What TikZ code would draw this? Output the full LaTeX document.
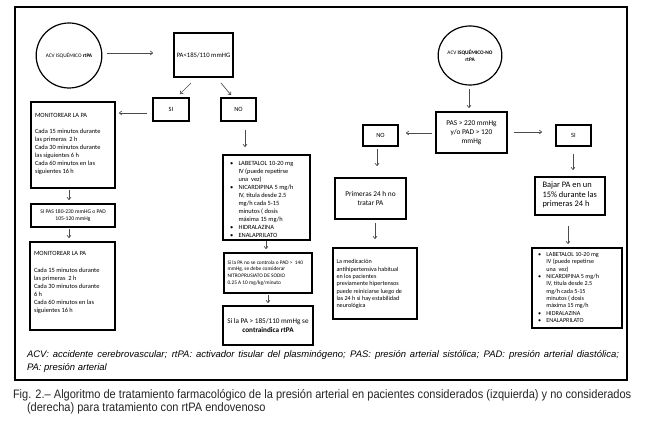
\documentclass[tikz,border=0pt]{standalone}
\usepackage{fontspec}
\setmainfont{Carlito}
\newfontfamily\capfont{Liberation Sans}
\newfontfamily\narrowfont[FakeStretch=0.9]{Liberation Sans}
\usetikzlibrary{arrows.meta,shapes.geometric}
\begin{document}
\begin{tikzpicture}[x=0.75pt,y=-0.75pt,
  box/.style 2 args={draw=black,line width=0.9pt,minimum width={#1*0.75pt},minimum height={#2*0.75pt},inner sep=0pt,outer sep=0pt,align=center},
  oval/.style 2 args={ellipse,draw=black,line width=0.9pt,minimum width={#1*0.75pt},minimum height={#2*0.75pt},inner sep=0pt,outer sep=0pt,align=center},
  txt/.style={inner sep=0pt,outer sep=0pt,anchor=north west,align=left,text=black},
  arr/.style={draw=black!70,line width=0.5pt,-{To[length=2.2pt,width=3.2pt]}},
  fa/.style={font=\fontsize{4}{5}\selectfont},
  fb/.style={font=\fontsize{4.8}{6}\selectfont},
  fc/.style={font=\fontsize{5.5}{6.6}\selectfont},
  fd/.style={font=\fontsize{6.3}{7.2}\selectfont}]
\useasboundingbox (0,0) rectangle (653,441);
\fill[white] (0,0) rectangle (653,441);
% outer frame
\draw[line width=0.8pt] (15,7) rectangle (627,380);

% ---------- left branch ----------
\node[oval={58}{65},fa] (circL) at (69,55.5) {ACV ISQUÉMICO \textbf{rtPA}};
\node[box={59}{44},font=\fontsize{5}{6}\selectfont] (paL) at (203.5,55) {PA<185/110 mmHG};
\node[box={36}{23},fb] (siL) at (171,109.5) {SI};
\node[box={35}{23},fb] (noL) at (238.5,109.5) {NO};
\node[box={84}{86}] (monA) at (73,145) {};
\node[txt,fb] (monAt) at (35,113.5) {MONITOREAR LA PA\\[6pt]Cada 15 minutos durante\\las primeras\ \ 2 h\\Cada 30 minutos durante\\las siguientes 6 h\\Cada 60 minutos en las\\siguientes 16 h};
\node[box={84}{23},font=\fontsize{4.2}{5.4}\selectfont] (siPAS) at (73,215.5) {SI PAS 180-230 mmHG o PAD\\105-120 mmHg};
\node[box={85}{88}] (monB) at (72.5,286) {};
\node[txt,fb] (monBt) at (34,251.5) {MONITOREAR LA PA\\[6.8pt]Cada 15 minutos durante\\las primeras\ \ 2 h\\Cada 30 minutos durante\\6 h\\Cada 60 minutos en las\\siguientes 16 h};
\node[box={87}{85}] (drugL) at (266.5,197.5) {};
\node[txt,fb] (drugLt) at (230,159.5) {\renewcommand\arraystretch{1}\begin{tabular}{@{}l@{\hspace{4pt}}l@{}}
\textbullet & LABETALOL 10-20 mg\\ & IV (puede repetirse\\ & una\ \ vez)\\
\textbullet & NICARDIPINA 5 mg/h\\ & IV, titula desde 2.5\\ & mg/h cada 5-15\\ & minutos ( dosis\\ & máxima 15 mg/h\\
\textbullet & HIDRALAZINA\\ \textbullet & ENALAPRILATO\end{tabular}};
\node[box={88}{40}] (nitro) at (268,273) {};
\node[txt,font=\fontsize{4}{5}\selectfont] (nitrot) at (227.5,260.5) {Si la PA no se controla o PAD >\ \ 140\\mmHg, se debe considerar\\NITROPRUSIATO DE SODIO\\0.25 A 10 mg/kg/minuto};
\node[box={90}{39},font=\fontsize{5.4}{7.4}\selectfont] (finL) at (268,325.5) {Si la PA > 185/110 mmHg se\\\textbf{contraindica rtPA}};

% connector end points (left)
\coordinate (a1s) at (107,53);  \coordinate (a1e) at (153,53);
\coordinate (a2s) at (191,83);  \coordinate (a2e) at (180,94);
\coordinate (a3s) at (221,83);  \coordinate (a3e) at (231,95);
\coordinate (a4s) at (147,113); \coordinate (a4e) at (119,113);
\coordinate (a5s) at (245,130); \coordinate (a5e) at (245,147);
\coordinate (a6s) at (69,190);  \coordinate (a6e) at (69,200);
\coordinate (a7s) at (69,229);  \coordinate (a7e) at (69,238);
\coordinate (a8s) at (266,241); \coordinate (a8e) at (266,249);
\coordinate (a9s) at (268,295); \coordinate (a9e) at (268,303);
\draw[arr] (a1s) -- (a1e);
\draw[arr] (a2s) -- (a2e);
\draw[arr] (a3s) -- (a3e);
\draw[arr] (a4s) -- (a4e);
\draw[arr] (a5s) -- (a5e);
\draw[arr] (a6s) -- (a6e);
\draw[arr] (a7s) -- (a7e);
\draw[arr] (a8s) -- (a8e);
\draw[arr] (a9s) -- (a9e);

% ---------- right branch ----------
\node[oval={60}{59},fa] (circR) at (470,55.5) {ACV \textbf{ISQUÉMICO-NO}\\\textbf{rtPA}};
\node[box={71}{41},fc] (pasR) at (471.5,132.5) {PAS > 220 mmHg\\y/o PAD > 120\\mmHg};
\node[box={35}{21},fb] (noR) at (380.5,135.5) {NO};
\node[box={35}{21},fb] (siR) at (573.5,135.5) {SI};
\node[box={71}{41},fc] (prim) at (370.5,198.5) {Primeras 24 h no\\tratar PA};
\node[box={84}{71}] (medic) at (375,283.5) {};
\node[txt,font=\fontsize{4.6}{5.5}\selectfont] (medict) at (336.5,259.5) {La medicación\\antihipertensiva habitual\\en los pacientes\\previamente hipertensos\\puede reiniciarse luego de\\las 24 h si hay estabilidad\\neurológica};
\node[box={70}{38}] (bajar) at (570,196) {};
\node[txt,fd] (bajart) at (542.5,182) {Bajar PA en un\\15\% durante las\\primeras 24 h};
\node[box={90}{80}] (drugR) at (577,288) {};
\node[txt,font=\fontsize{4.6}{5.5}\selectfont] (drugRt) at (538,251.5) {\renewcommand\arraystretch{1}\begin{tabular}{@{}l@{\hspace{4pt}}l@{}}
\textbullet & LABETALOL 10-20 mg\\ & IV (puede repetirse\\ & una\ \ vez)\\
\textbullet & NICARDIPINA 5 mg/h\\ & IV, titula desde 2.5\\ & mg/h cada 5-15\\ & minutos ( dosis\\ & máxima 15 mg/h\\
\textbullet & HIDRALAZINA\\ \textbullet & ENALAPRILATO\end{tabular}};

% connector end points (right)
\coordinate (b1s) at (469,89);  \coordinate (b1e) at (469,108);
\coordinate (b2s) at (432,133); \coordinate (b2e) at (406,133);
\coordinate (b3s) at (514,132); \coordinate (b3e) at (542,132);
\coordinate (b4s) at (377,149); \coordinate (b4e) at (377,166);
\coordinate (b5s) at (375,223); \coordinate (b5e) at (375,239);
\coordinate (b6s) at (573,154); \coordinate (b6e) at (573,170);
\coordinate (b7s) at (568,226); \coordinate (b7e) at (568,244);
\draw[arr] (b1s) -- (b1e);
\draw[arr] (b2s) -- (b2e);
\draw[arr] (b3s) -- (b3e);
\draw[arr] (b4s) -- (b4e);
\draw[arr] (b5s) -- (b5e);
\draw[arr] (b6s) -- (b6e);
\draw[arr] (b7s) -- (b7e);

% ---------- captions ----------
\node[txt,text width=444pt,align=justify,font=\capfont\itshape\fontsize{7.1}{9.6}\selectfont] (leg) at (27,350.5) {ACV: accidente cerebrovascular; rtPA: activador tisular del plasminógeno; PAS: presión arterial sistólica; PAD: presión arterial diastólica;\linebreak PA: presión arterial};
\node[txt,font=\narrowfont\fontsize{9.2}{9.9}\selectfont,text=black!85] (cap) at (13,389.5) {Fig. 2.– Algoritmo de tratamiento farmacológico de la presión arterial en pacientes considerados (izquierda) y no considerados\\\hspace*{10.5pt}(derecha) para tratamiento con rtPA endovenoso};
\end{tikzpicture}
\end{document}
